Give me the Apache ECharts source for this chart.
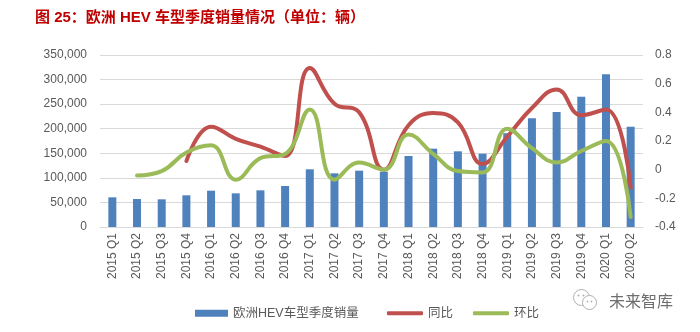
<!DOCTYPE html>
<html>
<head>
<meta charset="utf-8">
<script src="https://cdn.jsdelivr.net/npm/echarts@6/dist/echarts.min.js"></script>
<style>
  html, body { margin: 0; padding: 0; background: #fff; }
  #chart { width: 700px; height: 332px; }
</style>
</head>
<body>
<div id="chart"></div>
<script>
// Quarterly HEV sales in Europe, with year-over-year and quarter-over-quarter growth
const quarters = [
  '2015 Q1','2015 Q2','2015 Q3','2015 Q4',
  '2016 Q1','2016 Q2','2016 Q3','2016 Q4',
  '2017 Q1','2017 Q2','2017 Q3','2017 Q4',
  '2018 Q1','2018 Q2','2018 Q3','2018 Q4',
  '2019 Q1','2019 Q2','2019 Q3','2019 Q4',
  '2020 Q1','2020 Q2'
];
const sales = [
  60400, 57000, 56300, 64500,
  73900, 68500, 74600, 83400,
  117400, 109200, 114600, 112600,
  144500, 159400, 154000, 149200,
  190600, 221100, 234000, 265200,
  310700, 204100
];
const yoy = [
  null, null, null, 0.06,
  0.30, 0.215, 0.16, 0.095,
  0.71, 0.46, 0.40, 0.0,
  0.31, 0.395, 0.33, 0.04,
  0.23, 0.43, 0.56, 0.38,
  0.42, -0.125
];
const qoq = [
  null, -0.04, -0.01, 0.12,
  0.17, -0.07, 0.08, 0.11,
  0.42, -0.07, 0.05, 0.0,
  0.245, 0.11, -0.01, -0.02,
  0.285, 0.15, 0.05, 0.13,
  0.2, -0.33
];
const salesTicks = { min: 0, max: 350000, interval: 50000 };
const rateTicks = { min: -0.4, max: 0.8, interval: 0.2 };

const latin = "'Liberation Sans', 'Noto Sans CJK SC', sans-serif";
const grey = '#595959';
const legendText = { color: grey, fontSize: 12.5, fontFamily: latin };

const chart = echarts.init(document.getElementById('chart'), null, { renderer: 'canvas' });
chart.setOption({
  animation: false,
  backgroundColor: '#ffffff',
  title: {
    text: '图 25：欧洲 HEV 车型季度销量情况（单位：辆）',
    left: 30, top: 5,
    textStyle: { color: '#C00000', fontSize: 15, fontWeight: 'bold', fontFamily: latin }
  },
  grid: { left: 100, right: 57, top: 55, bottom: 105 },
  legend: [
    {
      left: 190, top: 302,
      itemWidth: 33, itemHeight: 7,
      textStyle: legendText,
      data: [{ name: '欧洲HEV车型季度销量', icon: 'rect' }]
    },
    {
      left: 382, top: 302,
      itemWidth: 36, itemHeight: 4, itemGap: 20,
      textStyle: legendText,
      data: [
        { name: '同比', icon: 'roundRect' },
        { name: '环比', icon: 'roundRect' }
      ]
    }
  ],
  xAxis: {
    type: 'category',
    data: quarters,
    boundaryGap: true,
    axisLine: { lineStyle: { color: '#D9D9D9', width: 1 } },
    axisTick: { show: false },
    axisLabel: { rotate: 90, margin: 6, color: grey, fontSize: 12, fontFamily: latin, interval: 0 }
  },
  yAxis: [
    {
      type: 'value',
      min: salesTicks.min, max: salesTicks.max, interval: salesTicks.interval,
      axisLine: { show: false },
      axisTick: { show: false },
      splitLine: { lineStyle: { color: '#D9D9D9', width: 1 } },
      axisLabel: {
        margin: 13, color: grey, fontSize: 12, fontFamily: latin,
        formatter: v => v.toLocaleString('en-US')
      }
    },
    {
      type: 'value',
      min: rateTicks.min, max: rateTicks.max, interval: rateTicks.interval,
      axisLine: { show: false },
      axisTick: { show: false },
      splitLine: { show: false },
      axisLabel: {
        margin: 12, color: grey, fontSize: 12, fontFamily: latin,
        formatter: v => String(+v.toFixed(1))
      }
    }
  ],
  series: [
    {
      name: '欧洲HEV车型季度销量',
      type: 'bar',
      data: sales,
      barWidth: 8,
      itemStyle: { color: '#4F81BD' }
    },
    {
      name: '同比',
      type: 'line',
      yAxisIndex: 1,
      data: yoy,
      smooth: 0.45,
      showSymbol: false,
      symbol: 'none',
      lineStyle: { color: '#C0504D', width: 4, cap: 'round' },
      itemStyle: { color: '#C0504D' }
    },
    {
      name: '环比',
      type: 'line',
      yAxisIndex: 1,
      data: qoq,
      smooth: 0.45,
      showSymbol: false,
      symbol: 'none',
      lineStyle: { color: '#9BBB59', width: 4, cap: 'round' },
      itemStyle: { color: '#9BBB59' }
    }
  ],
  graphic: [
    {
      type: 'group', left: 573, top: 289,
      children: [
        { type: 'circle', shape: { cx: 9, cy: 9, r: 8 },
          style: { fill: '#fff', stroke: '#B0B0B0', lineWidth: 1 } },
        { type: 'circle', shape: { cx: 17, cy: 14, r: 7 },
          style: { fill: '#fff', stroke: '#B0B0B0', lineWidth: 1 } },
        { type: 'circle', shape: { cx: 6, cy: 7, r: 1 }, style: { fill: '#B0B0B0' } },
        { type: 'circle', shape: { cx: 11, cy: 7, r: 1 }, style: { fill: '#B0B0B0' } },
        { type: 'circle', shape: { cx: 15, cy: 13, r: 0.9 }, style: { fill: '#B0B0B0' } },
        { type: 'circle', shape: { cx: 19, cy: 13, r: 0.9 }, style: { fill: '#B0B0B0' } }
      ]
    },
    {
      type: 'text', left: 609, top: 293,
      style: { text: '未来智库', fill: '#6E6E6E', font: '16px "Noto Sans CJK SC"' }
    }
  ]
});
</script>
</body>
</html>
